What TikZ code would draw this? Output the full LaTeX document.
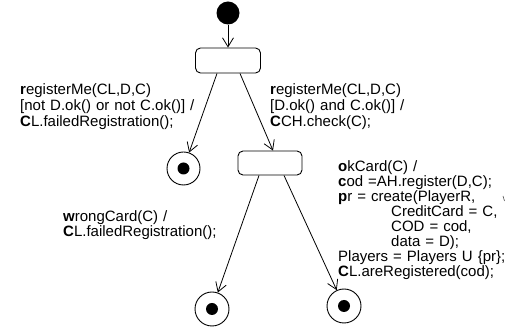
\documentclass[tikz,border=0pt]{standalone}
\usepackage{fontspec}
\setmainfont{Liberation Sans}
\usetikzlibrary{arrows.meta,calc}
\begin{document}
\begin{tikzpicture}[x=1pt,y=-1pt,
  state/.style={draw,line width=0.9pt,rounded corners=5pt,minimum width=65pt,minimum height=25pt,inner sep=0pt},
  initst/.style={circle,fill=black,minimum size=23pt,inner sep=0pt},
  finalst/.style={circle,draw,line width=0.9pt,minimum size=33pt,inner sep=0pt},
  finaldot/.style={circle,fill=black,minimum size=12pt,inner sep=0pt},
  arr/.style={line width=0.8pt,-{Straight Barb[length=9pt,width=11pt,line width=0.8pt]}},
  lbl/.style={text width=220pt,align=left,anchor=base west,inner sep=0pt},
]
\useasboundingbox (0,0) rectangle (512,328);
\node[anchor=base west,inner sep=0pt,font=\bfseries\fontsize{25}{25}\selectfont] (head) at (16,-6.5) {behaviour};

\node[initst] (init) at (228,13) {};
\node[state] (s1) at (228,60.5) {};
\node[finalst] (f1) at (183.5,168.5) {};
\node[finaldot] (f1d) at (f1) {};
\node[state, minimum width=64pt, minimum height=24pt] (s2) at (270,163) {};
\node[finalst, minimum size=34pt] (f2) at (212,309) {};
\node[finaldot] (f2d) at (f2) {};
\node[finalst, minimum size=34pt] (f3) at (344,306) {};
\node[finaldot] (f3d) at (f3) {};

\draw[arr] (init) -- (s1);
\draw[arr] ($(s1.south)+(-11,0)$) -- (f1);
\draw[arr] ($(s1.south)+(12,0)$) -- ($(s2.north)+(3,0)$);
\draw[arr] ($(s2.south)+(-11,0)$) -- (f2);
\draw[arr] ($(s2.south)+(14,0)$) -- (f3);

\node[lbl,font=\fontsize{15}{16}\selectfont] (l1) at (20,95) {\textbf{r}egisterMe(CL,D,C)\\{}[not D.ok() or not C.ok()] /\\\textbf{C}L.failedRegistration();};
\node[lbl,font=\fontsize{15}{16}\selectfont] (r1) at (270,95) {\textbf{r}egisterMe(CL,D,C)\\{}[D.ok() and C.ok()] /\\\textbf{C}CH.check(C);};
\node[lbl,font=\fontsize{15}{15}\selectfont] (w1) at (63,222) {\textbf{w}rongCard(C) /\\\textbf{C}L.failedRegistration();};
\node[lbl,font=\fontsize{15}{15}\selectfont] (ok) at (338,172) {\textbf{o}kCard(C) /\\\textbf{c}od =AH.register(D,C);\\\textbf{p}r = create(PlayerR,\\\hspace*{53pt}CreditCard = C,\\\hspace*{53pt}COD = cod,\\\hspace*{53pt}data = D);\\Players = Players U \{pr\};\\\textbf{C}L.areRegistered(cod);};
\coordinate (m1) at (503,196);
\coordinate (m2) at (504.5,201);
\draw[line width=0.6pt,black!70] (m1) -- (m2);
\end{tikzpicture}
\end{document}
